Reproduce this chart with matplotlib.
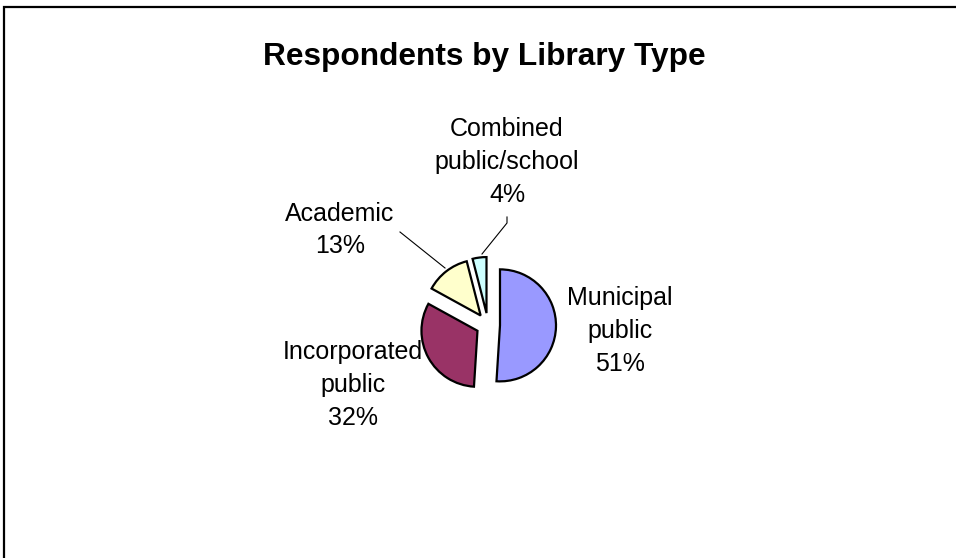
import matplotlib
matplotlib.use("Agg")
import matplotlib.pyplot as plt
from matplotlib.patches import Rectangle

categories = ["Municipal\npublic", "Incorporated\npublic", "Academic", "Combined\npublic/school"]
values = [51, 32, 13, 4]
colors = ["#9999FF", "#993366", "#FFFFCC", "#CCFFFF"]
title = "Respondents by Library Type"

W, H = 956, 558
fig = plt.figure(figsize=(W / 100, H / 100), dpi=100)
fig.patch.set_facecolor("white")
plt.rcParams['font.family'] = ['Liberation Sans', 'DejaVu Sans']

ax = fig.add_axes([0, 0, 1, 1])
ax.set_xlim(0, W)
ax.set_ylim(0, H)
ax.set_aspect("equal")
ax.axis("off")

# frame (extends beyond right and bottom edges)
ax.add_patch(Rectangle((4, -20), W + 20, H - 7 + 20, fill=False,
                       edgecolor="black", linewidth=1.6, clip_on=False))

cx, cy, r = 488, H - 325, 56
# matplotlib's explode offset is in data units here
ax.pie(values, colors=colors, startangle=90, counterclock=False,
       explode=[12] * len(values), center=(cx, cy), radius=r,
       wedgeprops=dict(edgecolor="black", linewidth=1.6), frame=True)
ax.set_xlim(0, W)
ax.set_ylim(0, H)
ax.axis("off")

total = sum(values)
labels = [f"{c}\n{round(v * 100 / total)}%" for c, v in zip(categories, values)]
label_pos = [(620, 331), (353, 385), (340, 230), (507, 162)]
for lab, (x, y) in zip(labels, label_pos):
    ax.text(x, H - y, lab, ha="center", va="center", fontsize=18,
            linespacing=1.45, color="black")

# leader lines
ax.plot([400, 445], [H - 232, H - 268], color="black", linewidth=0.8)
ax.plot([507, 507, 482], [H - 217, H - 223, H - 254], color="black", linewidth=0.8)

ax.text(484, H - 57, title, ha="center", va="center", fontsize=22.8,
        fontweight="bold", color="black")

fig.savefig("out.png", dpi=100)
